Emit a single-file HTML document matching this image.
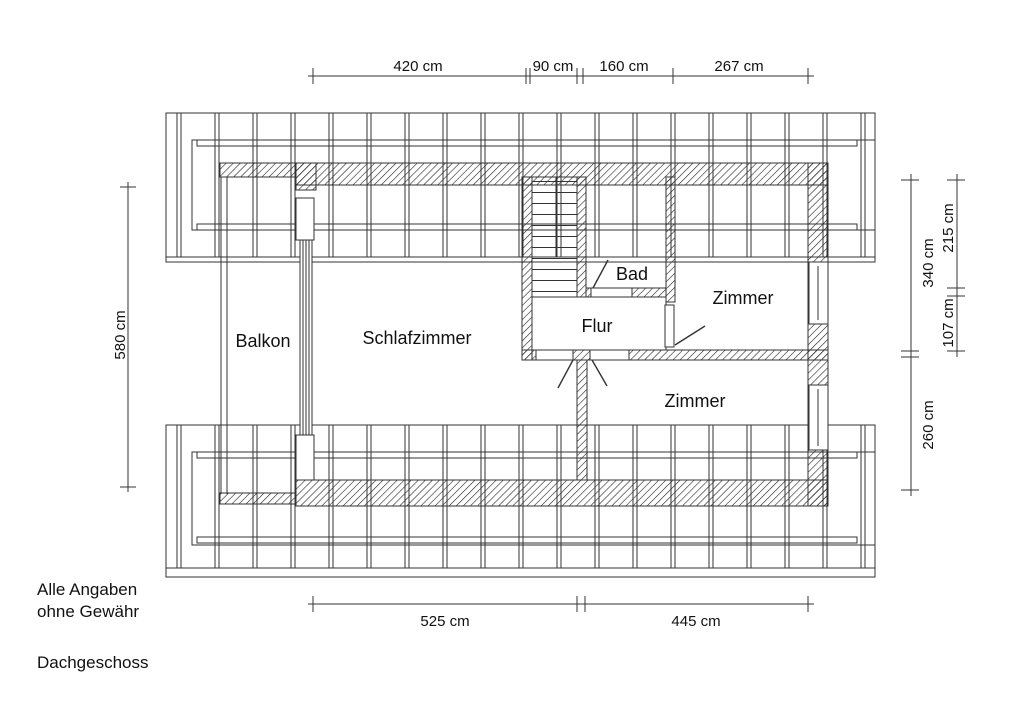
<!DOCTYPE html>
<html><head><meta charset="utf-8"><style>
html,body{margin:0;padding:0;background:#fff;}
svg{display:block;}
text{font-family:"Liberation Sans",sans-serif;fill:#111;}
</style></head><body>
<svg width="1024" height="712" viewBox="0 0 1024 712" xmlns="http://www.w3.org/2000/svg">
<defs>
<pattern id="h" patternUnits="userSpaceOnUse" width="5" height="5" patternTransform="rotate(45)">
<line x1="0" y1="0" x2="0" y2="5" stroke="#222" stroke-width="1.2"/>
</pattern>
<pattern id="raf" patternUnits="userSpaceOnUse" x="176" y="0" width="38" height="10">
<line x1="1" y1="0" x2="1" y2="10" stroke="#333" stroke-width="1"/>
<line x1="5" y1="0" x2="5" y2="10" stroke="#333" stroke-width="1"/>
</pattern>
<pattern id="st" patternUnits="userSpaceOnUse" x="0" y="181" width="10" height="11">
<line x1="0" y1="0.5" x2="10" y2="0.5" stroke="#333" stroke-width="1"/>
</pattern>
</defs>
<g fill="none" stroke="#333" stroke-width="1">
<rect x="166" y="113" width="709" height="149"/>
<line x1="166" y1="257" x2="875" y2="257"/>
<rect x="176" y="113" width="690" height="144" fill="url(#raf)" stroke="none"/>
<path d="M875 140 H192 V230 H875"/>
<rect x="197" y="140" width="660" height="6"/>
<rect x="197" y="224" width="660" height="6"/>
<rect x="166" y="425" width="709" height="152"/>
<line x1="166" y1="568" x2="875" y2="568"/>
<rect x="176" y="425" width="690" height="143" fill="url(#raf)" stroke="none"/>
<path d="M875 452 H192 V545 H875"/>
<rect x="197" y="452" width="660" height="6"/>
<rect x="197" y="537" width="660" height="6"/>
<line x1="221" y1="177" x2="221" y2="494"/>
<line x1="227" y1="177" x2="227" y2="494"/>
</g>
<g fill="url(#h)" stroke="#333" stroke-width="1">
<rect x="220" y="163" width="76" height="14"/>
<rect x="296" y="163" width="532" height="22"/>
<rect x="296" y="163" width="20" height="27"/>
<rect x="220" y="493" width="76" height="11"/>
<rect x="296" y="480" width="532" height="26"/>
<rect x="808" y="163" width="20" height="343"/>
<rect x="522" y="177" width="10" height="183"/>
<rect x="577" y="177" width="9" height="120"/>
<rect x="666" y="177" width="9" height="125"/>
<rect x="586" y="288" width="80" height="9"/>
<rect x="522" y="350" width="306" height="10"/>
<rect x="577" y="360" width="10" height="120"/>
</g>
<g fill="#fff" stroke="#333" stroke-width="1">
<rect x="532" y="177" width="45" height="120" fill="url(#st)"/>
<line x1="556" y1="177" x2="556" y2="257"/>
<rect x="532" y="297" width="134" height="53"/>
<rect x="296" y="198" width="18" height="42"/>
<rect x="300" y="240" width="12" height="200" />
<line x1="303" y1="240" x2="303" y2="440"/><line x1="306" y1="240" x2="306" y2="440"/><line x1="309" y1="240" x2="309" y2="440"/>
<rect x="296" y="435" width="18" height="45"/>
<rect x="809" y="262" width="19" height="62"/>
<line x1="818" y1="266" x2="818" y2="320"/>
<rect x="809" y="385" width="19" height="65"/>
<line x1="818" y1="389" x2="818" y2="446"/>
<rect x="591" y="288" width="41" height="9"/>
<rect x="536" y="350" width="37" height="10"/>
<rect x="590" y="350" width="39" height="10"/>
<rect x="665" y="305" width="9" height="42"/>
</g>
<g stroke="#333" stroke-width="1.4" fill="none">
<line x1="593" y1="288" x2="608" y2="260"/>
<line x1="573" y1="360" x2="558" y2="388"/>
<line x1="592" y1="360" x2="607" y2="386"/>
<line x1="675" y1="345" x2="705" y2="326"/>
</g>
<g stroke="#333" stroke-width="1" fill="none">
<line x1="308" y1="76" x2="814" y2="76"/>
<path d="M313 68v16M526 68v16M530 68v16M577 68v16M583 68v16M673 68v16M808 68v16"/>
<line x1="308" y1="604" x2="814" y2="604"/>
<path d="M313 596v16M577 596v16M585 596v16M808 596v16"/>
<line x1="128" y1="182" x2="128" y2="492"/>
<path d="M120 187h16M120 487h16"/>
<line x1="911" y1="174" x2="911" y2="496"/>
<path d="M901 180h18M901 351h18M901 357h18M901 490h18"/>
<line x1="957" y1="174" x2="957" y2="357"/>
<path d="M947 180h18M947 288h18M947 296h18M947 351h18"/>
</g>
<g font-size="15" text-anchor="middle">
<text x="418" y="71">420 cm</text>
<text x="553" y="71">90 cm</text>
<text x="624" y="71">160 cm</text>
<text x="739" y="71">267 cm</text>
<text x="445" y="626">525 cm</text>
<text x="696" y="626">445 cm</text>
<text transform="translate(125,335) rotate(-90)">580 cm</text>
<text transform="translate(933,263) rotate(-90)">340 cm</text>
<text transform="translate(953,228) rotate(-90)">215 cm</text>
<text transform="translate(953,323) rotate(-90)">107 cm</text>
<text transform="translate(933,425) rotate(-90)">260 cm</text>
</g>
<g font-size="18" text-anchor="middle">
<text x="263" y="347">Balkon</text>
<text x="417" y="344">Schlafzimmer</text>
<text x="597" y="332">Flur</text>
<text x="632" y="280">Bad</text>
<text x="743" y="304">Zimmer</text>
<text x="695" y="407">Zimmer</text>
</g>
<g font-size="17">
<text x="37" y="595">Alle Angaben</text>
<text x="37" y="617">ohne Gewähr</text>
<text x="37" y="668">Dachgeschoss</text>
</g>
</svg>
</body></html>
